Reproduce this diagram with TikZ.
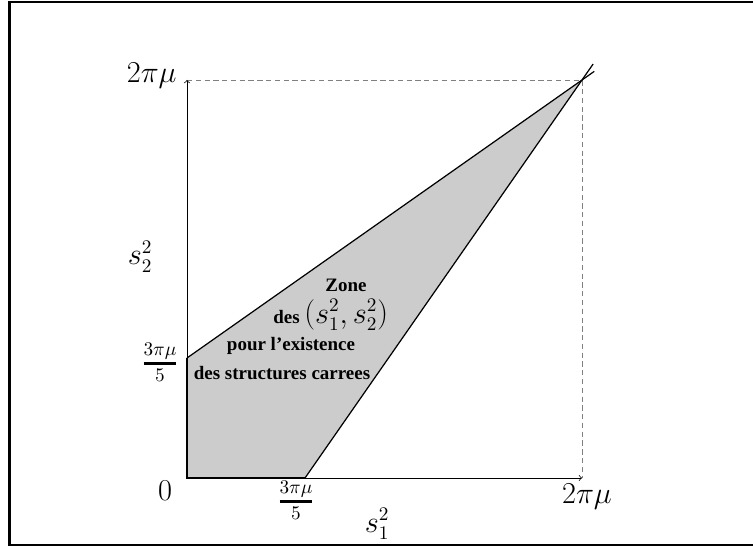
\documentclass[tikz,border=0pt]{standalone}
\usepackage{amsmath}
\usepackage{fontspec}
\newfontfamily\zonefont[Ligatures=TeX]{Liberation Serif}
\usetikzlibrary{calc}

\begin{document}
\begin{tikzpicture}[x=0.02cm, y=0.02cm,
  axis/.style={->, thin},
  guide/.style={densely dashed, gray, thin},
  edge/.style={line width=0.7pt},
  zonetext/.style={font=\zonefont\bfseries\fontsize{10.8}{13}\selectfont, inner sep=0pt, anchor=base},
  tick/.style={font=\fontsize{16}{19}\selectfont, inner sep=0pt}
]
  \useasboundingbox (0,0) rectangle (753,548);
  \draw[line width=1.4pt] (9.5,3) rectangle (760,546);

  % sommets
  \coordinate (O) at (187,70);
  \coordinate (X) at (582,70);
  \coordinate (Y) at (187,468);
  \coordinate (A) at (187,190);
  \coordinate (B) at (305,70);
  \coordinate (P) at (582,468);

  % zone grise
  \fill[gray!40] (O) -- (A) -- (P) -- (B) -- cycle;

  \draw[guide] (Y) -- (P) -- (X);
  \draw[axis] (O) -- (X);
  \draw[axis] (O) -- (Y);

  \draw[edge] (B) -- (O) -- (A);
  \draw[edge] (A) -- ($(A)!1.031!(P)$);
  \draw[edge] (B) -- ($(B)!1.04!(P)$);

  % graduations
  \node[tick] (zero) at (165,57) {$0$};
  \node[tick, anchor=base east] (ymax) at (177,465) {$2\pi\mu$};
  \node[tick, anchor=base] (xmax) at (587,45) {$2\pi\mu$};
  \node[tick] (ya) at (160,186) {$\genfrac{}{}{1.7pt}{}{3\pi\mu}{5}$};
  \node[tick] (xb) at (296,48) {$\genfrac{}{}{1.7pt}{}{3\pi\mu}{5}$};
  \node[tick, anchor=base] (ylab) at (140,283) {$s_2^2$};
  \node[tick, anchor=base] (xlab) at (377,16) {$s_1^2$};

  % texte de la zone
  \node[zonetext] (z1) at (346,256) {Zone};
  \node[zonetext, anchor=base east] (z2a) at (300,225) {des};
  \node[tick, anchor=base west] (z2b) at (304,225) {$\left(s_1^2, s_2^2\right)$};
  \node[zonetext] (z3) at (291,198) {pour l'existence};
  \node[zonetext] (z4) at (282,169) {des structures carrees};
\end{tikzpicture}
\end{document}
